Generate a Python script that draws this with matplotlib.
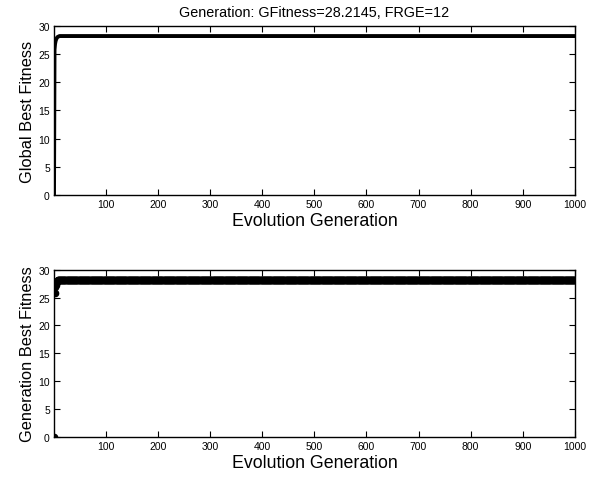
import numpy as np
import matplotlib
matplotlib.use("Agg")
import matplotlib.pyplot as plt

plt.rcParams['font.family'] = ['Liberation Sans', 'DejaVu Sans']

# best fitness per generation (first generations, then the plateau)
early_global = [0.0, 25.8, 26.8, 27.3, 27.6, 27.8, 27.95, 28.05, 28.1, 28.15, 28.19, 28.2145]
early_gen = [0.0, 25.8, 26.8, 27.3, 27.6, 27.8, 27.95, 28.05, 28.1, 28.15, 28.19, 28.2145]
plateau = 28.2145
n_gen = 1000

global_best = np.array(early_global + [plateau] * (n_gen - len(early_global)))
gen_best = np.array(early_gen + [plateau] * (n_gen - len(early_gen)))
generations = np.arange(1, n_gen + 1)

xticks = [100, 200, 300, 400, 500, 600, 700, 800, 900, 1000]
yticks = [0, 5, 10, 15, 20, 25, 30]
title = 'Generation: GFitness=28.2145, FRGE=12'

fig = plt.figure(figsize=(6.02, 4.81), dpi=100)
ax1 = fig.add_axes([0.0897, 0.5925, 0.8654, 0.3514])
ax2 = fig.add_axes([0.0897, 0.0894, 0.8654, 0.3480])

ax1.plot(generations, global_best, color='black', linewidth=2.8)
ax1.set_title(title, fontsize=10.4, pad=7)
ax1.set_ylabel('Global Best Fitness', fontsize=11.8, labelpad=2)

ax2.plot(generations, gen_best, 'o', color='black', markersize=4.5)
ax2.set_ylabel('Generation Best Fitness', fontsize=11.8, labelpad=2)

for ax in (ax1, ax2):
    ax.set_xlim(1, 1000)
    ax.set_ylim(0, 30)
    ax.set_xticks(xticks)
    ax.set_yticks(yticks)
    ax.set_xlabel('Evolution Generation', fontsize=12.8, labelpad=2)
    ax.tick_params(direction='in', top=True, right=True, length=4,
                   labelsize=7.5, width=0.8, pad=3)
    for s in ax.spines.values():
        s.set_linewidth(1.0)

fig.savefig('out.png', dpi=100)
